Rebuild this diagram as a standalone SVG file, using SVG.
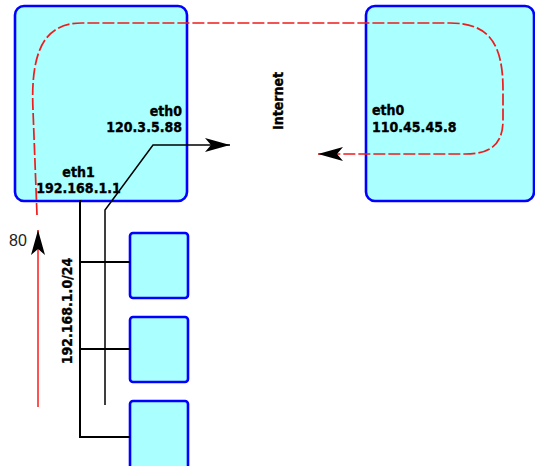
<svg xmlns="http://www.w3.org/2000/svg" width="535" height="466" viewBox="0 0 535 466">
<style>
.box{fill:#aaffff;stroke:#0000ff;stroke-width:2.6}
.lbl{font-family:"DejaVu Sans Condensed","DejaVu Sans",sans-serif;font-stretch:condensed;font-weight:bold;font-size:14px;fill:#000;stroke:#000;stroke-width:0.35}
.num{font-family:"Liberation Sans",sans-serif;font-size:16px;fill:#222}
.wire{fill:none;stroke:#000;stroke-width:2}
.path{fill:none;stroke:#000;stroke-width:1.5}
.red{fill:none;stroke:#ff1a1a;stroke-width:1.5}
.reddash{fill:none;stroke:#ee1c1c;stroke-width:1.7;stroke-dasharray:12 3}
</style>
<defs>
<marker id="ah" viewBox="-26 -8 27 16" refX="0" refY="0" markerWidth="27" markerHeight="16" markerUnits="userSpaceOnUse" orient="auto">
<path d="M0 0 L-25 -7 L-19 0 L-25 7 Z" fill="#000"/>
</marker>
</defs>
<rect width="535" height="466" fill="#fff"/>
<g id="router">
<rect class="box" x="15" y="6" width="172" height="195" rx="9"/>
<text class="lbl" x="182" y="116" text-anchor="end">eth0</text>
<text class="lbl" x="182" y="132" text-anchor="end">120.3.5.88</text>
<text class="lbl" x="78.5" y="177" text-anchor="middle">eth1</text>
<text class="lbl" x="78.5" y="193" text-anchor="middle">192.168.1.1</text>
</g>
<g id="server">
<rect class="box" x="366" y="6" width="168" height="195" rx="9"/>
<text class="lbl" x="372" y="115">eth0</text>
<text class="lbl" x="372" y="132">110.45.45.8</text>
</g>
<g id="host1"><rect class="box" x="130" y="233" width="58" height="65" rx="3"/></g>
<g id="host2"><rect class="box" x="130" y="317" width="58" height="65" rx="3"/></g>
<g id="host3"><rect class="box" x="130" y="401" width="58" height="70" rx="3"/></g>
<g id="internet"><text class="lbl" x="283" y="101" text-anchor="middle" transform="rotate(-90 283 101)">Internet</text></g>
<g id="connectors">
<path class="wire" d="M80 200 L80 437 L130 437 M80 262 L130 262 M80 349 L130 349"/>
<text class="lbl" x="72" y="311" text-anchor="middle" transform="rotate(-90 72 311)">192.168.1.0/24</text>
<path class="path" d="M105 405 L105 210 L153 145 L230 145" marker-end="url(#ah)"/>
<path class="reddash" d="M37 215 L33 110 C30 45 48 23 82 23 L450 23 C490 23 503 45 503 90 L503 120 C503 145 490 154 465 154 L318 154" marker-end="url(#ah)"/>
<path class="red" d="M38 407 L38 230" marker-end="url(#ah)"/>
<text class="num" x="9" y="246">80</text>
</g>
</svg>
